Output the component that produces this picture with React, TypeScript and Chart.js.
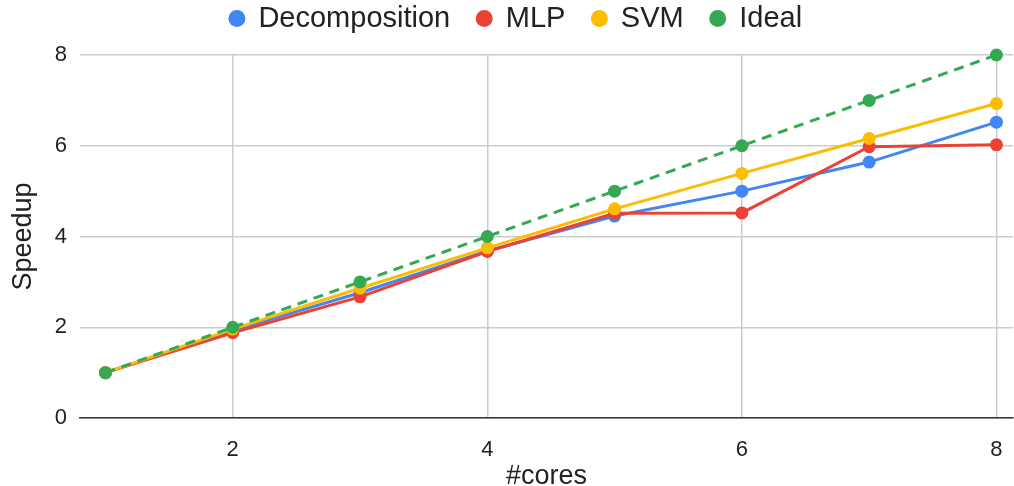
import React, { useEffect, useRef } from "react";
import { Chart, registerables } from "chart.js";

Chart.register(...registerables);

const cores = [1, 2, 3, 4, 5, 6, 7, 8];
const decomposition = [1, 1.93, 2.76, 3.68, 4.45, 5.0, 5.64, 6.52];
const mlp = [1, 1.88, 2.67, 3.67, 4.51, 4.52, 5.98, 6.02];
const svm = [1, 1.96, 2.86, 3.75, 4.61, 5.39, 6.16, 6.93];
const ideal = [1, 2, 3, 4, 5, 6, 7, 8];
const xTicks = [2, 4, 6, 8];
const yTicks = [0, 2, 4, 6, 8];

const FONT = "'Liberation Sans', Arial, sans-serif";

const toPts = (ys: number[]) => cores.map((c, i) => ({ x: c, y: ys[i] }));

export default function App() {
  const ref = useRef<HTMLCanvasElement>(null);
  useEffect(() => {
    if (!ref.current) return;
    const mk = (label: string, data: number[], color: string, order: number, dash?: number[]) => ({
      label,
      data: toPts(data),
      borderColor: color,
      backgroundColor: color,
      pointBackgroundColor: color,
      pointBorderColor: color,
      borderWidth: 3,
      pointRadius: 6.5,
      pointBorderWidth: 0,
      borderDash: dash || [],
      order,
      clip: false as any,
    });
    const legendSpacer = {
      id: "legendSpacer",
      beforeLayout(chart: any) {
        const lg = chart.legend;
        if (lg && !lg._spaced) {
          lg._spaced = true;
          const origFit = lg.fit.bind(lg);
          lg.fit = function () {
            origFit();
            this.height += 12;
          };
        }
      },
    };
    const chart = new Chart(ref.current, {
      type: "line",
      data: {
        datasets: [
          mk("Decomposition", decomposition, "#4285F4", 3),
          mk("MLP", mlp, "#EA4335", 2),
          mk("SVM", svm, "#FBBC04", 1),
          mk("Ideal", ideal, "#34A853", 0, [10, 7]),
        ],
      },
      options: {
        animation: false,
        responsive: false,
        layout: { autoPadding: false, padding: { top: -23, left: 19, right: 1, bottom: 0 } },
        plugins: {
          tooltip: { enabled: false },
          legend: {
            position: "top",
            align: "center",
            labels: {
              usePointStyle: true,
              pointStyle: "circle",
              boxWidth: 14,
              boxHeight: 12,
              padding: 27,
              color: "#222",
              font: { family: FONT, size: 29 },
              sort: (a: any, b: any) => a.datasetIndex - b.datasetIndex,
            },
          },
        },
        scales: {
          x: {
            type: "linear",
            min: 0.8,
            max: 8.13,
            afterBuildTicks: (s: any) => {
              s.ticks = xTicks.map((v) => ({ value: v }));
            },
            afterFit: (s: any) => {
              s.height = 68;
              s.paddingLeft = 0;
              s.paddingRight = 0;
            },
            grid: { color: "#cccccc", lineWidth: 1.5, drawTicks: false },
            border: { display: true, color: "#333333", width: 1.5 },
            ticks: {
              color: "#222",
              padding: 19,
              font: { family: FONT, size: 22 },
              maxRotation: 0,
            },
            title: {
              display: true,
              text: "#cores",
              color: "#222",
              font: { family: FONT, size: 27, lineHeight: 0.7 },
              padding: { top: 0, bottom: 0 },
            },
          },
          y: {
            type: "linear",
            min: 0,
            max: 8,
            afterBuildTicks: (s: any) => {
              s.ticks = yTicks.map((v) => ({ value: v }));
            },
            afterFit: (s: any) => {
              s.width = 61;
              s.paddingTop = 0;
              s.paddingBottom = 0;
            },
            grid: { color: "#cccccc", lineWidth: 1.5, drawTicks: false },
            border: { display: false },
            ticks: {
              color: "#222",
              padding: 13,
              font: { family: FONT, size: 22 },
            },
            title: {
              display: true,
              text: "Speedup",
              color: "#222",
              font: { family: FONT, size: 27, lineHeight: 1.0 },
              padding: { top: -9, bottom: 0 },
            },
          },
        },
      },
      plugins: [legendSpacer],
    } as any);
    return () => chart.destroy();
  }, []);
  return (
    <div style={{ position: "absolute", left: 0, top: 0, width: 1014, height: 486, background: "#fff" }}>
      <canvas ref={ref} width={1014} height={486} />
    </div>
  );
}
